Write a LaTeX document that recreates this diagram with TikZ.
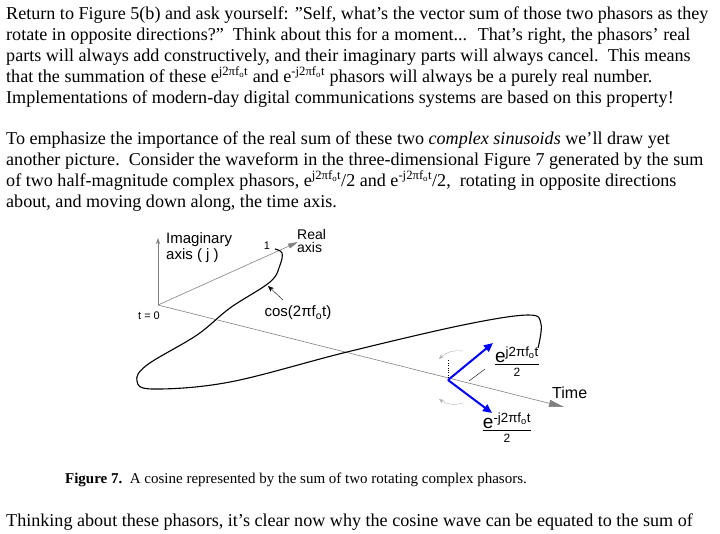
\documentclass[tikz,border=0pt]{standalone}
\usepackage{fontspec}
\setmainfont{Liberation Serif}
\newfontfamily\arial{Liberation Sans}
\usetikzlibrary{arrows.meta}
\newcommand{\eplus}{e\textsuperscript{j2πf\textsubscript{o}t}}
\newcommand{\eminus}{e\textsuperscript{-j2πf\textsubscript{o}t}}
\newcommand{\qd}{\symbol{34}}
\newcommand{\phfrac}[1]{\begin{tabular}{@{}c@{}}\arial\fontsize{19}{19}\selectfont #1\\[-3pt]\hline\noalign{\vskip2pt}\arial\fontsize{12}{12}\selectfont 2\end{tabular}}
\begin{document}
\begin{tikzpicture}[x=1pt,y=-1pt,
  tl/.style={anchor=base west,inner sep=0,font=\fontsize{18.1}{19}\selectfont},
  lab/.style={inner sep=0,font=\arial\fontsize{15}{15}\selectfont},
  ax/.style={draw=gray,line width=0.6pt},
  ph/.style={draw=blue,line width=2pt,-{Triangle[length=9pt,width=8pt]}}]
\useasboundingbox (0,0) rectangle (720,533);
\node[tl] (l1) at (6,19) {Return to Figure 5(b) and ask yourself: \qd Self, what's the vector sum of those two phasors as they};
\node[tl] (l2) at (6,40) {rotate in opposite directions?\qd\ \ Think about this for a moment... \ That's right, the phasors' real};
\node[tl] (l3) at (6,61) {parts will always add constructively, and their imaginary parts will always cancel.\ \ This means};
\node[tl] (l4) at (6,82) {that the summation of these \eplus{} and \eminus{} phasors will always be a purely real number.};
\node[tl] (l5) at (6,103) {Implementations of modern-day digital communications systems are based on this property!};
\node[tl] (p1) at (6,144) {To emphasize the importance of the real sum of these two \textit{complex sinusoids} we'll draw yet};
\node[tl] (p2) at (6,165) {another picture.\ \ Consider the waveform in the three-dimensional Figure 7 generated by the sum};
\node[tl] (p3) at (6,186) {of two half-magnitude complex phasors, \eplus/2 and \eminus/2,\ \ rotating in opposite directions};
\node[tl] (p4) at (6,207) {about, and moving down along, the time axis.};
\node[anchor=base,inner sep=0,font=\fontsize{15}{16}\selectfont] (cap) at (296,483) {\textbf{Figure 7.}\ \ A cosine represented by the sum of two rotating complex phasors.};
\node[tl] (last) at (6,526) {Thinking about these phasors, it's clear now why the cosine wave can be equated to the sum of};
% axes
\coordinate (O) at (158,305);
\coordinate (I) at (158,238);
\coordinate (R) at (298,242);
\coordinate (T) at (564,407);
\draw[ax,-{Stealth[length=6pt,width=4pt]}] (O) -- (I);
\draw[ax,-{Triangle[length=10pt,width=5pt]}] (O) -- (R);
\draw[ax,-{Triangle[length=15pt,width=7pt]}] (O) -- (T);
\node[lab,anchor=north west,align=left,font=\arial\fontsize{15}{16}\selectfont] (il) at (166,232) {Imaginary\\axis ( j )};
\node[lab,anchor=north west,align=left,font=\arial\fontsize{14}{13}\selectfont] (rl) at (297,229) {Real\\axis};
\node[lab,font=\arial\fontsize{11}{11}\selectfont] (one) at (267,246) {1};
\node[lab,font=\arial\fontsize{11}{11}\selectfont] (t0) at (149,316) {t = 0};
\node[lab,font=\arial\fontsize{16}{16}\selectfont,anchor=west] (tm) at (552,393) {Time};
% curve
\draw[line width=1.1pt] plot[smooth,tension=0.6] coordinates {(275,249) (282,253) (280,265) (270,282) (230,308) (197,335) (147,365) (137,381) (153,389) (230,382) (347,352) (463,325) (528,315) (541,324) (538,348)};
\node[lab] (cl) at (298,313) {cos(2πf\textsubscript{o}t)};
\draw[-{Stealth[length=6pt,width=5pt]}] (283,300) -- (268,286);
% phasors
\coordinate (P) at (448,380);
\draw[dotted] (P) -- (448,360);
\draw[ph] (P) -- (493,343);
\draw[ph] (P) -- (492,413);
\draw (469,381) -- (485,369);
\draw[gray!60,-{Stealth[length=5pt,width=4pt]}] (463,351) to[bend right=25] (439,359);
\draw[gray!60,-{Stealth[length=5pt,width=4pt]}] (463,403) to[bend left=25] (439,399);
\node[lab] (f1) at (517,364) {\phfrac{e\textsuperscript{j2πf\textsubscript{o}t}}};
\node[lab] (f2) at (507,430) {\phfrac{e\textsuperscript{-j2πf\textsubscript{o}t}}};
\end{tikzpicture}
\end{document}
